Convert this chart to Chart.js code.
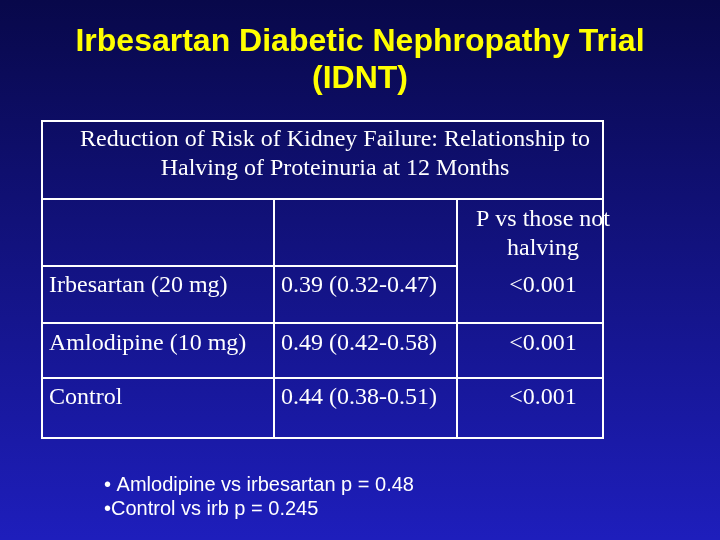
<!DOCTYPE html>
<html>
<head>
<meta charset="utf-8">
<script src="https://cdn.jsdelivr.net/npm/chart.js@4/dist/chart.umd.min.js"></script>
<style>
  html, body { margin: 0; padding: 0; background: #0a0a60; }
  canvas { display: block; }
</style>
</head>
<body>
<canvas id="slide" width="720" height="540"></canvas>
<script>
// slide content
const titleLines = ['Irbesartan Diabetic Nephropathy Trial', '(IDNT)'];
const tableTitle = ['Reduction of Risk of Kidney Failure: Relationship to', 'Halving of Proteinuria at 12 Months'];
const pHeader = ['P vs those not', 'halving'];
const treatments = ['Irbesartan (20 mg)', 'Amlodipine (10 mg)', 'Control'];
const riskRatios = ['0.39 (0.32-0.47)', '0.49 (0.42-0.58)', '0.44 (0.38-0.51)'];
const pValues = ['<0.001', '<0.001', '<0.001'];
const notes = ['\u2022 Amlodipine vs irbesartan p = 0.48', '\u2022Control vs irb p = 0.245'];

const slidePlugin = {
    id: 'slide',
    beforeDraw(chart) {
        const ctx = chart.ctx;
        const g = ctx.createLinearGradient(0, 0, 0, 540);
        g.addColorStop(0, '#08084a');
        g.addColorStop(1, '#1e1ebc');
        ctx.save();
        ctx.fillStyle = g;
        ctx.fillRect(0, 0, 720, 540);

        ctx.fillStyle = '#ffff00';
        ctx.font = 'bold 32px "Liberation Sans", Arial, sans-serif';
        ctx.textAlign = 'center';
        ctx.textBaseline = 'middle';
        titleLines.forEach((t, i) => ctx.fillText(t, 360, 42 + i * 37));

        // table grid
        ctx.strokeStyle = '#ffffff';
        ctx.lineWidth = 2;
        ctx.strokeRect(42, 121, 561, 317);
        const line = (x1, y1, x2, y2) => { ctx.beginPath(); ctx.moveTo(x1, y1); ctx.lineTo(x2, y2); ctx.stroke(); };
        line(42, 199, 603, 199);
        line(42, 266, 457, 266);
        line(42, 323, 603, 323);
        line(42, 378, 603, 378);
        line(274, 199, 274, 438);
        line(457, 199, 457, 438);

        ctx.fillStyle = '#ffffff';
        ctx.font = '24px "Liberation Serif", "Times New Roman", serif';
        tableTitle.forEach((t, i) => ctx.fillText(t, 335, 140 + i * 29));
        pHeader.forEach((t, i) => ctx.fillText(t, 543, 220 + i * 29));

        const rowY = [286, 344, 398];
        treatments.forEach((t, i) => {
            ctx.textAlign = 'left';
            ctx.fillText(t, 49, rowY[i]);
            ctx.fillText(riskRatios[i], 281, rowY[i]);
            ctx.textAlign = 'center';
            ctx.fillText(pValues[i], 543, rowY[i]);
        });

        ctx.textAlign = 'left';
        ctx.font = '20px "Liberation Sans", Arial, sans-serif';
        notes.forEach((t, i) => ctx.fillText(t, 104, 485 + i * 24));
        ctx.restore();
    }
};

new Chart(document.getElementById('slide'), {
    type: 'scatter',
    data: { datasets: [] },
    options: {
        responsive: false,
        devicePixelRatio: 1,
        animation: false,
        plugins: { legend: { display: false }, tooltip: { enabled: false } },
        scales: { x: { display: false }, y: { display: false } }
    },
    plugins: [slidePlugin]
});
</script>
</body>
</html>
